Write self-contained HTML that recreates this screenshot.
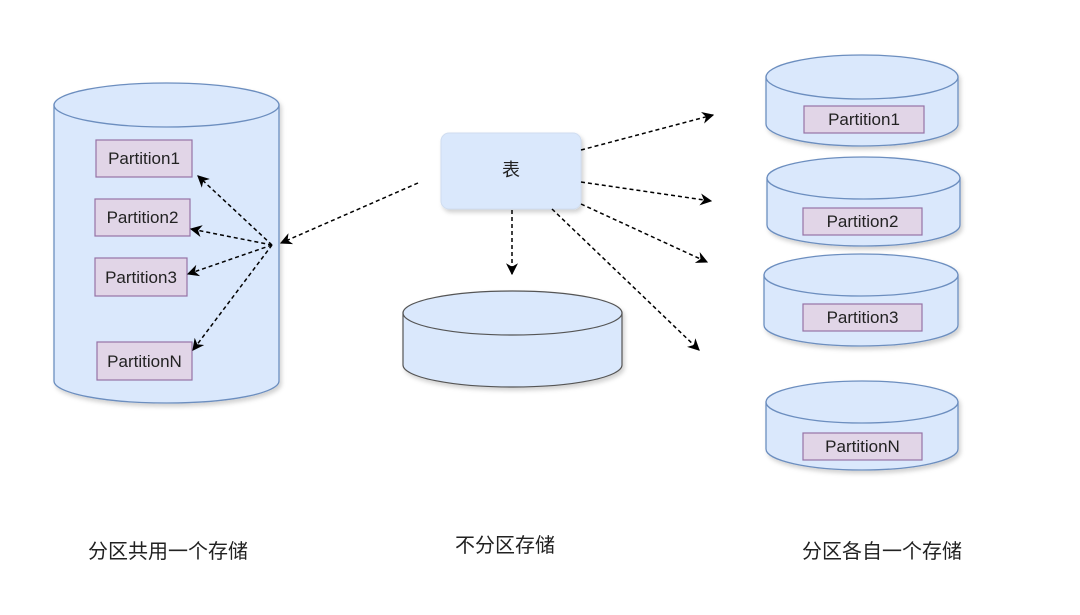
<!DOCTYPE html>
<html><head><meta charset="utf-8"><style>
html,body{margin:0;padding:0;background:#fff;}
svg{display:block;}
text{font-family:"Liberation Sans","Noto Sans CJK SC",sans-serif;}
</style></head><body>
<svg width="1080" height="615" viewBox="0 0 1080 615" xmlns="http://www.w3.org/2000/svg">
<defs>
<filter id="sh" x="-10%" y="-10%" width="130%" height="130%"><feDropShadow dx="2" dy="3" stdDeviation="2" flood-color="#000" flood-opacity="0.18"/></filter>
<marker id="ar" viewBox="0 0 10 10" refX="9" refY="5" markerWidth="12" markerHeight="12" orient="auto" markerUnits="userSpaceOnUse"><path d="M0,0 L10,5 L0,10 L3,5 z" fill="#000"/></marker>
</defs>

<g filter="url(#sh)">
<path d="M54,105 L54,381 A112.5,22 0 0 0 279,381 L279,105 Z" fill="#dae8fc" stroke="#6c8ebf" stroke-width="1.3"/>
<ellipse cx="166.5" cy="105" rx="112.5" ry="22" fill="#dae8fc" stroke="#6c8ebf" stroke-width="1.3"/>
</g>
<g fill="#e1d5e7" stroke="#9673a6" stroke-width="1.2">
<rect x="96" y="140" width="96" height="37"/>
<rect x="95" y="199" width="95" height="37"/>
<rect x="95" y="258" width="92" height="38"/>
<rect x="97" y="342" width="95" height="38"/>
</g>
<g font-size="17" fill="#222" text-anchor="middle">
<text x="144" y="164">Partition1</text>
<text x="142.5" y="223">Partition2</text>
<text x="141" y="283">Partition3</text>
<text x="144.5" y="367">PartitionN</text>
</g>

<rect x="441" y="133" width="140" height="76" rx="8" fill="#dae8fc" stroke="#d0ddf0" filter="url(#sh)"/>
<text x="511" y="176" font-size="18" text-anchor="middle" fill="#222">表</text>

<g filter="url(#sh)">
<path d="M403,313 L403,365 A109.5,22 0 0 0 622,365 L622,313 Z" fill="#dae8fc" stroke="#555" stroke-width="1.2"/>
<ellipse cx="512.5" cy="313" rx="109.5" ry="22" fill="#dae8fc" stroke="#555" stroke-width="1.2"/>
</g>

<g filter="url(#sh)" fill="#dae8fc" stroke="#6c8ebf" stroke-width="1.3">
<path d="M766,77 L766,124 A96,22 0 0 0 958,124 L958,77 Z"/>
<ellipse cx="862" cy="77" rx="96" ry="22"/>
<path d="M767,178 L767,225 A96.5,21 0 0 0 960,225 L960,178 Z"/>
<ellipse cx="863.5" cy="178" rx="96.5" ry="21"/>
<path d="M764,275 L764,325 A97,21 0 0 0 958,325 L958,275 Z"/>
<ellipse cx="861" cy="275" rx="97" ry="21"/>
<path d="M766,402 L766,449 A96,21 0 0 0 958,449 L958,402 Z"/>
<ellipse cx="862" cy="402" rx="96" ry="21"/>
</g>
<g fill="#e1d5e7" stroke="#9673a6" stroke-width="1.2">
<rect x="804" y="106" width="120" height="27"/>
<rect x="803" y="208" width="119" height="27"/>
<rect x="803" y="304" width="119" height="27"/>
<rect x="803" y="433" width="119" height="27"/>
</g>
<g font-size="17" fill="#222" text-anchor="middle">
<text x="864" y="125">Partition1</text>
<text x="862.5" y="227">Partition2</text>
<text x="862.5" y="323">Partition3</text>
<text x="862.5" y="452">PartitionN</text>
</g>

<g stroke="#000" stroke-width="1.5" stroke-dasharray="4,3" fill="none" marker-end="url(#ar)">
<line x1="418" y1="183" x2="281" y2="243"/>
<line x1="272" y1="245" x2="198" y2="176"/>
<line x1="272" y1="245" x2="191" y2="229"/>
<line x1="272" y1="245" x2="188" y2="274"/>
<line x1="272" y1="245" x2="193" y2="350"/>
<line x1="512" y1="210" x2="512" y2="274"/>
<line x1="581" y1="150" x2="713" y2="115"/>
<line x1="581" y1="182" x2="711" y2="201"/>
<line x1="581" y1="204" x2="707" y2="262"/>
<line x1="552" y1="209" x2="699" y2="350"/>
</g>

<g font-size="20" fill="#222" text-anchor="middle">
<text x="168" y="558">分区共用一个存储</text>
<text x="505" y="552">不分区存储</text>
<text x="882" y="558">分区各自一个存储</text>
</g>
</svg>
</body></html>
